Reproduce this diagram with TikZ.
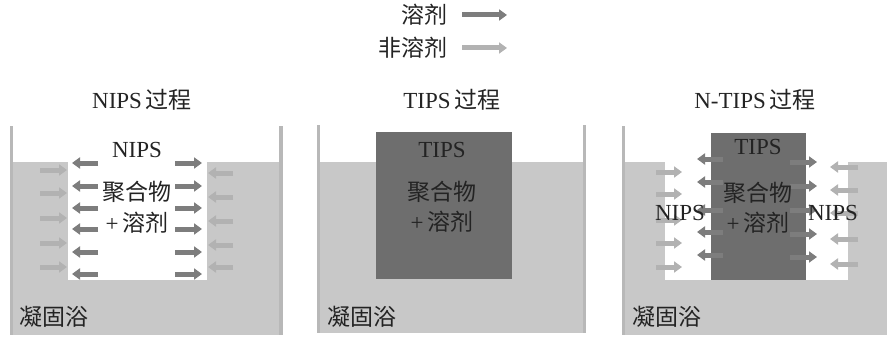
\documentclass[tikz,border=0pt]{standalone}
\usepackage{fontspec}
\setmainfont{Liberation Serif}
\newfontfamily\cjk{Noto Sans CJK SC}
\usetikzlibrary{arrows.meta}
\definecolor{bathc}{RGB}{200,200,200}
\definecolor{wallc}{RGB}{184,184,184}
\definecolor{boxc}{RGB}{110,110,110}
\definecolor{solc}{RGB}{125,125,125}
\definecolor{nsolc}{RGB}{178,178,178}
\definecolor{txtc}{RGB}{35,35,35}
\begin{document}
\begin{tikzpicture}[x=1pt,y=-1pt,
  txt/.style={font=\fontsize{23}{27}\selectfont, text=txtc, inner sep=0pt},
  solarr/.style={draw=solc, line width=5pt, -{Triangle[length=8pt,width=11pt,fill=solc]}},
  nsolarr/.style={draw=nsolc, line width=5pt, -{Triangle[length=8pt,width=11pt,fill=nsolc]}},
  wall/.style={draw=wallc, line width=3.5pt},
  bath/.style={fill=bathc, draw=none},
  poly/.style={fill=white, draw=none},
  tbox/.style={fill=boxc, draw=none}]
\useasboundingbox (0,0) rectangle (887,337);

% legend
\node[txt, anchor=east] (lsol) at (448,15) {\cjk 溶剂};
\node[txt, anchor=east] (lnsol) at (448,48) {\cjk 非溶剂};
\coordinate (ls1) at (462,15); \coordinate (ls2) at (507,15);
\coordinate (ln1) at (462,48); \coordinate (ln2) at (507,48);
\draw[solarr] (ls1) -- (ls2);
\draw[nsolarr] (ln1) -- (ln2);

% titles
\node[txt] (t1) at (142,100) {NIPS\,{\cjk 过程}};
\node[txt] (t2) at (452,100) {TIPS\,{\cjk 过程}};
\node[txt] (t3) at (755,100) {N-TIPS\,{\cjk 过程}};

% ---------- panel 1 ----------
\fill[bath] (10,162) rectangle (283,335);
\draw[wall] (11.5,126) -- (11.5,335);
\draw[wall] (281,126) -- (281,335);
\fill[poly] (68,162) rectangle (207,280);
\foreach \y in {163,186,208,229,252,274} {
  \draw[solarr] (98,\y) -- (72,\y);
  \draw[solarr] (175,\y) -- (202,\y);
}
\foreach \y in {170,193,218,243,267} \draw[nsolarr] (40,\y) -- (67,\y);
\foreach \y in {173,197,221,245,267} \draw[nsolarr] (233,\y) -- (208,\y);
\node[txt] (n1) at (137,150) {NIPS};
\node[txt] (p1a) at (137,192) {\cjk 聚合物};
\node[txt] (p1b) at (137,223) {+\,{\cjk 溶剂}};
\node[txt, anchor=west] (b1) at (19,317) {\cjk 凝固浴};

% ---------- panel 2 ----------
\fill[bath] (317,162) rectangle (586,333);
\draw[wall] (318.5,125) -- (318.5,333);
\draw[wall] (584.5,125) -- (584.5,333);
\fill[tbox] (376,132) rectangle (512,279);
\node[txt] (n2) at (442,150) {TIPS};
\node[txt] (p2a) at (442,192) {\cjk 聚合物};
\node[txt] (p2b) at (442,222) {+\,{\cjk 溶剂}};
\node[txt, anchor=west] (b2) at (327,317) {\cjk 凝固浴};

% ---------- panel 3 ----------
\fill[bath] (622,162) rectangle (887,335);
\draw[wall] (623.5,126) -- (623.5,335);
\fill[poly] (665,162) rectangle (848,280);
\fill[tbox] (711,133) rectangle (806,280);
\foreach \y in {172,194,220,243,267} \draw[nsolarr] (656,\y) -- (682,\y);
\foreach \y in {159,182,210,232,255} \draw[solarr] (723,\y) -- (697,\y);
\foreach \y in {162,186,210,234,257} \draw[solarr] (790,\y) -- (817,\y);
\foreach \y in {167,190,213,239,264} \draw[nsolarr] (858,\y) -- (830,\y);
\node[txt] (n3) at (758,147) {TIPS};
\node[txt] (p3a) at (758,193) {\cjk 聚合物};
\node[txt] (p3b) at (758,223) {+\,{\cjk 溶剂}};
\node[txt] (n3l) at (680,213) {NIPS};
\node[txt] (n3r) at (833,213) {NIPS};
\node[txt, anchor=west] (b3) at (632,317) {\cjk 凝固浴};
\end{tikzpicture}
\end{document}
